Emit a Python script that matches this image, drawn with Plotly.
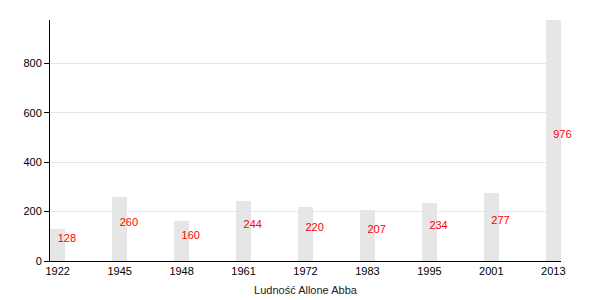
import plotly.graph_objects as go

years = ["1922", "1945", "1948", "1961", "1972", "1983", "1995", "2001", "2013"]
population = [128, 260, 160, 244, 220, 207, 234, 277, 976]
label_y = [v / 2 for v in population]
labels = [str(v) for v in population]

fig = go.Figure()
fig.add_trace(go.Bar(
    x=years, y=population, width=0.25,
    marker=dict(color="#e6e6e6", line=dict(width=0)),
    hoverinfo="skip",
))
fig.add_trace(go.Scatter(
    x=years, y=label_y, mode="text", text=labels,
    textposition="top right", cliponaxis=False,
    textfont=dict(color="#ff0000", size=11, family="Liberation Sans, Arial, sans-serif"),
    hoverinfo="skip",
))

fig.update_layout(
    width=600, height=300,
    margin=dict(l=50, r=39, t=20, b=39, autoexpand=False),
    paper_bgcolor="white", plot_bgcolor="white",
    showlegend=False,
    font=dict(family="Liberation Sans, Arial, sans-serif", size=11, color="#000"),
    bargap=0,
)
fig.update_xaxes(
    type="category", range=[-0.125, 8.125], automargin=False,
    showline=True, linecolor="#000", linewidth=1,
    showgrid=False, ticks="", ticklen=0,
    title=dict(text="Ludność Allone Abba", font=dict(size=11, color="#222"), standoff=10),
    tickfont=dict(size=11, color="#000"),
)
fig.update_yaxes(
    range=[0, 976], tickvals=[0, 200, 400, 600, 800], automargin=False,
    showline=True, linecolor="#000", linewidth=1,
    showgrid=True, gridcolor="#e6e6e6", gridwidth=1,
    ticks="outside", ticklen=5, tickcolor="#000",
    zeroline=False,
    tickfont=dict(size=11, color="#000"),
)

fig.write_html("out.html")
